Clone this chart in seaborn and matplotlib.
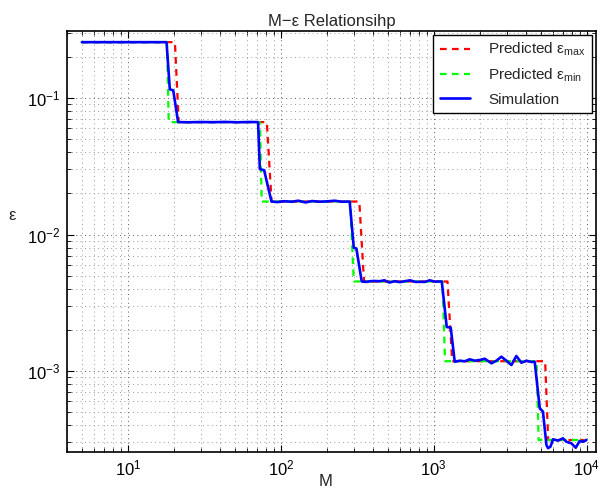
import matplotlib
matplotlib.use("Agg")
import matplotlib.pyplot as plt
import seaborn as sns
import pandas as pd

# --- data ---

# predicted upper bound (red dashed)
max_m = [5, 20.3, 21.5, 81, 87, 326, 350, 1230, 1320, 5350, 5600, 10000]
max_eps = [0.257, 0.257, 0.0667, 0.0667, 0.01746, 0.01746, 0.00453, 0.00453,
           0.00118, 0.00118, 0.000312, 0.000312]

# predicted lower bound (green dashed)
min_m = [5, 18.0, 18.5, 73, 75, 284, 300, 1140, 1185, 4700, 4850, 10000]
min_eps = [0.257, 0.257, 0.0667, 0.0667, 0.01746, 0.01746, 0.00453, 0.00453,
           0.00118, 0.00118, 0.000312, 0.000312]

# simulation (blue)
sim_m = [5, 17.9, 18.8, 19.8, 21.3,
         25, 30, 36, 43, 52, 62, 71.0,
         72.9, 77.8, 86.9,
         95, 105, 118, 130, 145, 160, 180, 200, 225, 250, 282,
         300, 312, 338,
         360, 400, 444, 475, 513, 556, 600, 700, 757, 878, 940, 1015, 1128,
         1216, 1291, 1371,
         1479, 1594, 1718, 1854, 2000, 2154, 2382, 2570, 2767, 2985, 3220,
         3467, 3741, 4036, 4355, 4571,
         4932, 5176,
         5455, 5587, 5794, 6026, 6493, 6998, 7362, 7943, 8474, 8995, 9462, 9953]
sim_eps = [0.257, 0.257, 0.116, 0.114, 0.0667,
           0.0665, 0.0668, 0.0666, 0.0669, 0.0665, 0.0668, 0.0667,
           0.0302, 0.0296, 0.01746,
           0.0173, 0.01755, 0.0174, 0.0177, 0.0172, 0.0176, 0.0174, 0.0175,
           0.0177, 0.0174, 0.01746,
           0.0080, 0.0079, 0.00453,
           0.0045, 0.00457, 0.00455, 0.00462, 0.00445, 0.00455, 0.00448,
           0.00462, 0.0045, 0.0045, 0.00462, 0.00452, 0.00453,
           0.00210, 0.00208, 0.00117,
           0.00119, 0.001178, 0.001218, 0.00119, 0.001204, 0.00123, 0.001139,
           0.00119, 0.001273, 0.00119, 0.001106, 0.001288, 0.00115, 0.00119,
           0.001164, 0.00117,
           0.000533, 0.000504,
           0.000287, 0.000272, 0.000279, 0.000316, 0.000309, 0.000321,
           0.000303, 0.000295, 0.000274, 0.000307, 0.000303, 0.000312]

x_lim = (4.0, 11500)
y_lim = (2.55e-4, 0.31)

sns.set_theme(style="ticks")
plt.rcParams['font.family'] = ['Liberation Sans', 'DejaVu Sans']
plt.rcParams['mathtext.default'] = 'regular'

fig = plt.figure(figsize=(6.0, 4.93), dpi=100)
ax = fig.add_axes([0.1117, 0.0832, 0.8816, 0.8538])
ax.set_xscale('log')
ax.set_yscale('log')

df_max = pd.DataFrame({"M": max_m, "eps": max_eps})
df_min = pd.DataFrame({"M": min_m, "eps": min_eps})
df_sim = pd.DataFrame({"M": sim_m, "eps": sim_eps})

dash = (0, (3.0, 2.4))
sns.lineplot(data=df_max, x="M", y="eps", ax=ax, sort=False, estimator=None,
             color="#ff0000", linestyle=dash, linewidth=1.6,
             label=r"Predicted ε$_{max}$")
sns.lineplot(data=df_min, x="M", y="eps", ax=ax, sort=False, estimator=None,
             color="#00ff00", linestyle=dash, linewidth=1.6,
             label=r"Predicted ε$_{min}$")
sns.lineplot(data=df_sim, x="M", y="eps", ax=ax, sort=False, estimator=None,
             color="#0000ff", linewidth=1.9, label="Simulation")

ax.set_xlim(*x_lim)
ax.set_ylim(*y_lim)

# matlab-ish box, inward ticks, sparse dotted grid
for s in ax.spines.values():
    s.set_visible(True)
    s.set_color("black")
    s.set_linewidth(1.2)
ax.tick_params(which="both", direction="in", top=True, right=True,
               labelsize=12, colors="black")
ax.tick_params(which="major", length=5, width=0.8, pad=5)
ax.tick_params(which="minor", length=3, width=0.6)
grid_dots = (0, (1, 3.5))
ax.grid(True, which="major", linestyle=grid_dots, color="0.35", linewidth=0.7)
ax.grid(True, which="minor", linestyle=grid_dots, color="0.6", linewidth=0.7)
ax.set_axisbelow(True)

ax.set_title("M\u2212ε Relationsihp", fontsize=12, pad=4)
ax.set_xlabel("")
ax.set_ylabel("")
fig.text(326 / 600, 1 - 482 / 493, "M", fontsize=12, ha="center", va="center")
fig.text(12 / 600, 1 - 216 / 493, "ε", fontsize=12, ha="center", va="center")

leg = ax.legend(loc="upper right", fontsize=11, frameon=True, fancybox=False,
                edgecolor="black", framealpha=1, borderaxespad=0.25,
                handlelength=2.0, labelspacing=0.55, borderpad=0.4,
                handletextpad=1.2)
leg.get_frame().set_linewidth(1.0)

fig.savefig("out.png", dpi=100)
